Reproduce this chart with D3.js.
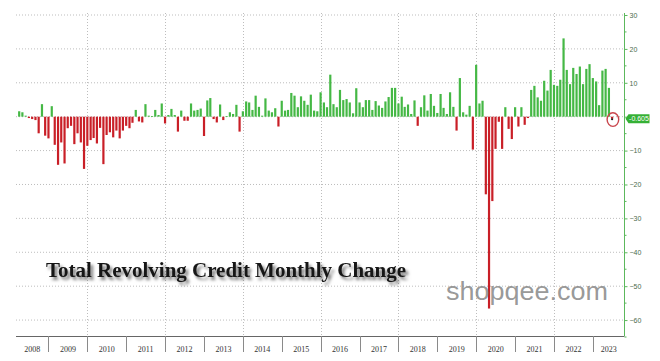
<!DOCTYPE html>
<html><head><meta charset="utf-8">
<script src="https://cdn.jsdelivr.net/npm/d3@7"></script>
<style>
html,body{margin:0;padding:0;background:#fff;}
svg{display:block;}
</style></head>
<body>
<svg id="c" width="660" height="361"></svg>
<script>
// ---- data ----
const firstMonth = "2008-03";           // first bar (monthly data, Mar 2008 .. Jun 2023)
const monthlyChange = [
  // 2008 (Mar-Dec)
  1.6, 1.3, 0.3, -0.4, -0.7, -1.0, -4.9, 3.7, -5.6, -6.4,
  // 2009
  3.1, -8.3, -14.2, -7.6, -13.8, -3.4, -2.7, -8.1, -4.9, -7.6, -15.4, -8.6,
  // 2010
  -6.9, -6.3, -7.9, -3.3, -14.0, -5.4, -4.6, -6.1, -4.1, -6.4, -4.1, -2.7,
  // 2011
  -3.4, -1.8, 2.0, -1.4, -1.7, 3.7, 0.3, 0.2, 2.0, 0.5, 3.9, -2.0,
  // 2012
  0.5, 2.3, 0.5, -4.4, 1.8, -1.2, -1.2, 3.9, 1.8, 2.0, 2.4, -5.7,
  // 2013
  4.8, 5.5, -0.7, -1.7, 3.6, -1.0, 0.2, 1.3, 0.8, 3.5, -4.4, 1.6,
  // 2014
  4.5, 4.2, 2.0, 6.2, 2.9, 0.3, 5.4, 1.8, 1.3, 2.5, -2.9, 4.7,
  // 2015
  1.8, 2.0, 7.0, 6.2, 2.8, 6.0, 4.7, 3.5, 6.5, 1.8, 1.6, 7.2,
  // 2016
  4.2, 2.8, 12.4, 3.7, 2.8, 7.9, 4.9, 5.2, 4.2, 1.0, 8.4, 4.2,
  // 2017
  2.8, 4.9, 4.9, 2.0, 4.6, 3.3, 2.6, 4.5, 5.8, 8.5, 8.5, 3.9,
  // 2018
  5.9, 2.9, 3.6, 0.8, 4.8, -2.7, 2.8, 6.3, 1.8, 6.7, 3.2, 1.1,
  // 2019
  6.7, 2.6, 0.8, 7.2, 2.9, -4.1, 11.4, 1.3, 0.6, 3.2, -9.7, 15.3,
  // 2020
  3.9, 4.7, -22.9, -56.6, -24.9, -9.5, -1.5, -9.5, 2.8, -3.6, -6.6, 2.8,
  // 2021
  -2.9, 2.8, -2.4, -0.4, 7.9, 9.1, 5.7, 4.7, 10.6, 7.7, 13.8, 9.4,
  // 2022
  9.1, 10.9, 23.1, 13.8, 9.6, 14.4, 12.6, 14.8, 9.6, 14.1, 15.5, 11.4,
  // 2023 (Jan-Jun)
  10.4, 3.4, 13.6, 14.1, 8.5, -0.605
];
const yearLabels = ["2008","2009","2010","2011","2012","2013","2014","2015",
                    "2016","2017","2018","2019","2020","2021","2022","2023"];
const gridYears = ["2010","2012","2014","2016","2018","2020","2022"];
const yTickValues = [30, 20, 10, 0, -10, -20, -30, -40, -50, -60];
const lastValueLabel = "-0.605";
const titleText = "Total Revolving Credit Monthly Change";
const watermark = "shopqee.com";

// ---- layout ----
const plotL = 16, plotR = 624.5, plotT = 13, plotB = 336;
const svg = d3.select("#c");

const parseM = d3.timeParse("%Y-%m");
const parseY = d3.timeParse("%Y");
const start = parseM(firstMonth);
const bars = monthlyChange.map((v, i) => {
  const m = d3.timeMonth.offset(start, i);
  return { month: m, pos: d3.timeMonth.offset(m, 1), value: v };
});

const x = d3.scaleTime()
  .domain([parseY("2008"), parseY("2024")])
  .range([9.5, 631.7]);
const y = d3.scaleLinear().domain([-64.7, 30]).range([plotB, 15]);

// defs
const defs = svg.append("defs");
defs.append("clipPath").attr("id", "plotclip").append("rect")
  .attr("x", plotL).attr("y", 0).attr("width", plotR - plotL).attr("height", plotB);
const f = defs.append("filter").attr("id", "shadow")
  .attr("x", "-10%").attr("y", "-30%").attr("width", "130%").attr("height", "190%");
f.append("feDropShadow").attr("dx", 2.5).attr("dy", 3).attr("stdDeviation", 1.8)
  .attr("flood-color", "#000").attr("flood-opacity", 0.55);

// horizontal grid
svg.append("g").selectAll("line").data(yTickValues).join("line")
  .attr("x1", plotL).attr("x2", plotR)
  .attr("y1", d => y(d)).attr("y2", d => y(d))
  .attr("stroke", "#bdbdbd").attr("stroke-width", 1)
  .attr("stroke-dasharray", "1,2");

// vertical grid
svg.append("g").selectAll("line").data(gridYears).join("line")
  .attr("x1", d => Math.round(x(parseY(d))) + 0.5).attr("x2", d => Math.round(x(parseY(d))) + 0.5)
  .attr("y1", plotT).attr("y2", plotB)
  .attr("stroke", "#bdbdbd").attr("stroke-width", 1)
  .attr("stroke-dasharray", "1,2");

// bars
const bw = 2.2;
svg.append("g").attr("clip-path", "url(#plotclip)")
  .selectAll("rect").data(bars).join("rect")
  .attr("x", d => x(d.pos) - bw / 2)
  .attr("width", bw)
  .attr("y", d => y(Math.max(0, d.value)))
  .attr("height", d => Math.max(0.8, Math.abs(y(d.value) - y(0))))
  .attr("fill", d => d.value >= 0 ? "#45b845" : "#c91f27");

// last point marker
const last = bars[bars.length - 1];
svg.append("circle").attr("cx", x(last.pos)).attr("cy", y(last.value) + 0.5).attr("r", 1.1).attr("fill", "#222");
svg.append("ellipse").attr("cx", x(last.pos) + 0.8).attr("cy", y(last.value) + 0.8)
  .attr("rx", 5.8).attr("ry", 6.8).attr("fill", "none")
  .attr("stroke", "#c9464d").attr("stroke-width", 1.4);

// bottom axis line
svg.append("line").attr("x1", plotL).attr("x2", plotR).attr("y1", plotB + 0.5).attr("y2", plotB + 0.5)
  .attr("stroke", "#666").attr("stroke-width", 1);

// year separators
svg.append("g").selectAll("line").data(yearLabels.slice(1)).join("line")
  .attr("x1", d => Math.round(x(parseY(d))) + 0.5).attr("x2", d => Math.round(x(parseY(d))) + 0.5)
  .attr("y1", plotB).attr("y2", 352)
  .attr("stroke", "#8a8a8a").attr("stroke-width", 1);

// year labels, centred in the visible part of each year
svg.append("g").selectAll("text").data(yearLabels).join("text")
  .attr("x", d => {
    const a = Math.max(plotL, x(parseY(d)));
    const b = Math.min(plotR, x(parseY(String(+d + 1))));
    return (a + b) / 2;
  })
  .attr("y", 351.5)
  .attr("text-anchor", "middle")
  .attr("font-family", "'Liberation Serif', serif")
  .attr("font-size", 8)
  .attr("fill", "#333")
  .text(d => d);

// right axis
const axis = d3.axisRight(y).tickValues(yTickValues).tickSize(3).tickPadding(2)
  .tickFormat(d => d === 0 ? "" : d3.format("d")(d));
const ag = svg.append("g").attr("transform", `translate(${plotR},0)`).call(axis);
ag.select(".domain").attr("stroke", "#5cb85c").attr("d", `M0,${plotT}V${plotB}`);
ag.selectAll(".tick line").attr("stroke", "#5cb85c");
ag.selectAll(".tick text").attr("font-family", "'Liberation Sans', Arial, sans-serif")
  .attr("font-size", 7).attr("fill", "#4d6b4d");
// minor ticks
svg.append("g").selectAll("line").data(d3.range(-65, 31, 5).filter(v => v % 10 !== 0)).join("line")
  .attr("x1", plotR).attr("x2", plotR + 2)
  .attr("y1", d => y(d)).attr("y2", d => y(d))
  .attr("stroke", "#5cb85c");

// last value tag
const tg = svg.append("g").attr("transform", `translate(${plotR + 1},${y(last.value)})`);
tg.append("path").attr("d", "M0,0 L3,-4.5 H24 V4.5 H3 Z").attr("fill", "#35b035");
tg.append("text").attr("x", 13.5).attr("y", 2.5).attr("text-anchor", "middle")
  .attr("font-family", "'Liberation Sans', Arial, sans-serif").attr("font-size", 7)
  .attr("fill", "#fff").text(lastValueLabel);

// title
svg.append("text").attr("x", 46).attr("y", 276.5)
  .attr("font-family", "'Liberation Serif', 'Times New Roman', serif")
  .attr("font-weight", "bold").attr("font-size", 20)
  .attr("fill", "#151515")
  .attr("filter", "url(#shadow)")
  .attr("textLength", 360).attr("lengthAdjust", "spacingAndGlyphs")
  .text(titleText);

// watermark
svg.append("text").attr("x", 446).attr("y", 300)
  .attr("font-family", "'Liberation Sans', Arial, sans-serif")
  .attr("font-size", 25).attr("fill", "#8c8c8c").attr("fill-opacity", 0.9)
  .attr("textLength", 162).attr("lengthAdjust", "spacingAndGlyphs")
  .text(watermark);
</script>
</body></html>
